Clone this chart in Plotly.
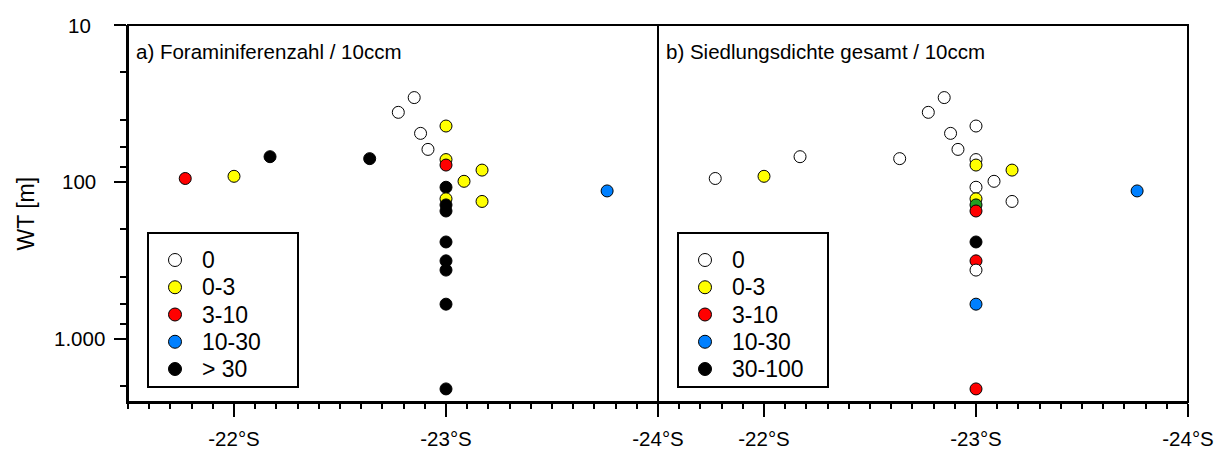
import math
import plotly.graph_objects as go

# ---------------- data ----------------
lat = [-22.85, -22.775, -23.0, -22.88, -22.915, -22.17, -22.64, -23.0, -23.0, -23.17,
       -22.0, -21.77, -23.085, -23.0, -23.76, -23.0, -23.17, -23.0, -23.0, -23.0,
       -23.0, -23.0, -23.0, -23.0]
depth = [29, 36, 44, 49, 62, 69, 71, 72, 78, 84,
         92, 95, 99, 108, 114, 128, 133, 140, 153, 241,
         318, 364, 600, 2080]
# class index per station: 0 = "0", 1 = "0-3", 2 = "3-10", 3 = "10-30", 4 = "> 30"/"30-100", 5 = unlisted
class_a = [0, 0, 1, 0, 0, 4, 4, 1, 2, 1, 1, 2, 1, 4, 3, 1, 1, 4, 4, 4, 4, 4, 4, 4]
class_b = [0, 0, 0, 0, 0, 0, 0, 0, 1, 1, 1, 0, 0, 0, 3, 1, 0, 5, 2, 4, 2, 0, 3, 2]

legend_a = ["0", "0-3", "3-10", "10-30", "> 30"]
legend_b = ["0", "0-3", "3-10", "10-30", "30-100"]
class_colors = ["#ffffff", "#ffff00", "#ff0000", "#0080ff", "#000000", "#22a022"]

title_a = "a) Foraminiferenzahl / 10ccm"
title_b = "b) Siedlungsdichte gesamt / 10ccm"
y_title = "WT [m]"

lat_ticks = [-21.5, -22, -22.5, -23, -23.5, -24]
lat_labels = ["", "-22°S", "", "-23°S", "", "-24°S"]
depth_ticks = [10, 100, 1000]
depth_labels = ["10", "100", "1.000"]
depth_minor = [20, 40, 60, 80, 200, 400, 600, 800, 2000]
shelf_depth = 143

LAT_RANGE = [-21.5, -24]
DEPTH_MAX = 2520

# ---------------- layout helpers ----------------
W, H = 1218, 449
PL, PR, PT, PB = 128, 1188, 25, 402
FONT = "Liberation Sans, Arial, sans-serif"


def px(x):
    return (x - PL) / (PR - PL)


def py(y):
    return (PB - y) / (PB - PT)


fig = go.Figure()

for xa, cls in (("x", class_a), ("x2", class_b)):
    fig.add_trace(go.Scatter(
        x=lat, y=depth, xaxis=xa, yaxis="y", mode="markers",
        marker=dict(size=12, color=[class_colors[c] for c in cls],
                    line=dict(color="black", width=1)),
        showlegend=False, cliponaxis=False,
    ))

minor_lat = [round(-21.5 - 0.1 * i, 2) for i in range(26)]

xcommon = dict(
    range=LAT_RANGE, tickmode="array", tickvals=lat_ticks, ticktext=lat_labels,
    ticks="outside", ticklen=13, tickwidth=2, tickcolor="black", automargin=False,
    showline=True, linewidth=2, linecolor="black", showgrid=False, zeroline=False,
    tickfont=dict(family=FONT, size=20.5, color="black"), ticklabelstandoff=4,
    minor=dict(tickmode="array", tickvals=minor_lat, ticks="outside", ticklen=5,
               tickwidth=1.5, tickcolor="black", showgrid=False),
)

shapes = [
    dict(type="rect", xref="paper", yref="paper", x0=0, x1=1, y0=0, y1=1,
         line=dict(color="black", width=2), layer="above"),
    dict(type="line", xref="paper", yref="paper", x0=0.5, x1=0.5, y0=0, y1=1,
         line=dict(color="black", width=2), layer="above"),
    dict(type="line", xref="paper", yref="y", x0=0, x1=1,
         y0=math.log10(shelf_depth), y1=math.log10(shelf_depth),
         line=dict(color="black", width=1.5), layer="below"),
]
annotations = []

PANEL_W = (PR - PL) / 2
rows = [260 + 27.25 * i for i in range(5)]
for k, (labels, title) in enumerate(((legend_a, title_a), (legend_b, title_b))):
    off = k * PANEL_W
    shapes.append(dict(type="rect", xref="paper", yref="paper",
                       x0=px(148 + off), x1=px(298 + off), y0=py(387), y1=py(233),
                       line=dict(color="black", width=2), fillcolor="white", layer="above"))
    for i, lab in enumerate(labels):
        shapes.append(dict(type="circle", xref="paper", yref="paper",
                           xsizemode="pixel", ysizemode="pixel",
                           xanchor=px(175 + off), yanchor=py(rows[i]),
                           x0=-6.5, x1=6.5, y0=-6.5, y1=6.5,
                           fillcolor=class_colors[i], line=dict(color="black", width=1),
                           layer="above"))
        annotations.append(dict(xref="paper", yref="paper", x=px(200 + off), y=py(rows[i]),
                                xanchor="left", yanchor="middle", text=lab, showarrow=False,
                                font=dict(family=FONT, size=23, color="black")))
    annotations.append(dict(xref="paper", yref="paper", x=px(134 + off), y=py(51.5),
                            xanchor="left", yanchor="middle", text=title, showarrow=False,
                            font=dict(family=FONT, size=20.5, color="black")))

for v, lab in zip(depth_ticks, depth_labels):
    annotations.append(dict(xref="paper", yref="y", x=px(79), y=math.log10(v),
                            xanchor="center", yanchor="middle", text=lab, showarrow=False,
                            font=dict(family=FONT, size=20.5, color="black")))

annotations.append(dict(xref="paper", yref="paper", x=px(25), y=0.5, textangle=-90,
                        xanchor="center", yanchor="middle", text=y_title, showarrow=False,
                        font=dict(family=FONT, size=23, color="black")))

fig.update_layout(
    width=W, height=H, autosize=False,
    margin=dict(l=PL, r=W - PR, t=PT, b=H - PB, pad=0),
    paper_bgcolor="white", plot_bgcolor="white",
    font=dict(family=FONT, color="black"),
    xaxis=dict(domain=[0, 0.5], anchor="y", **xcommon),
    xaxis2=dict(domain=[0.5, 1], anchor="y", **xcommon),
    yaxis=dict(type="log", range=[math.log10(DEPTH_MAX), 1], anchor="x", automargin=False,
               tickmode="array", tickvals=depth_ticks, showticklabels=False,
               ticks="outside", ticklen=12, tickwidth=2, tickcolor="black",
               showline=True, linewidth=2, linecolor="black", showgrid=False, zeroline=False,
               minor=dict(tickmode="array", tickvals=depth_minor, ticks="outside",
                          ticklen=6, tickwidth=1.5, tickcolor="black", showgrid=False)),
    shapes=shapes, annotations=annotations, showlegend=False,
)

fig.write_html("out.html")
